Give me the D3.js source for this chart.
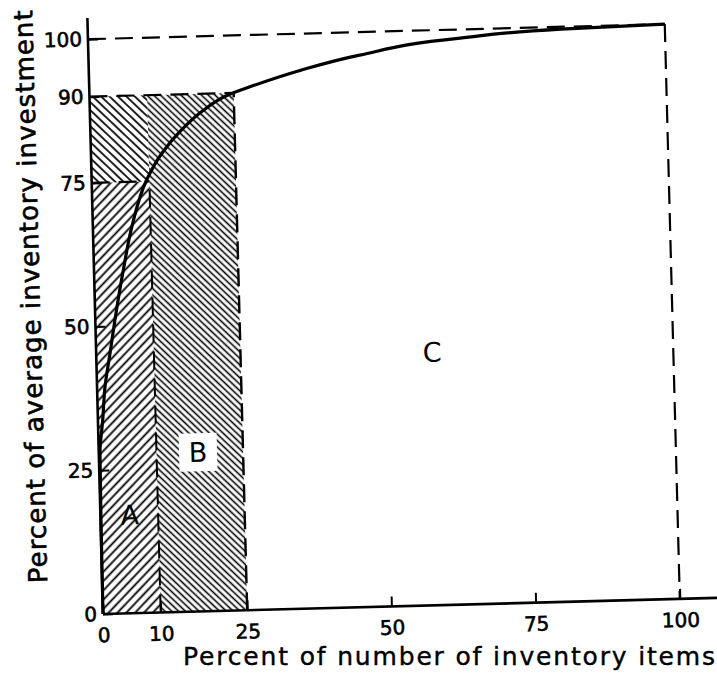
<!DOCTYPE html>
<html>
<head>
<meta charset="utf-8">
<script src="https://cdn.jsdelivr.net/npm/d3@7"></script>
<style>
  html, body { margin: 0; padding: 0; background: #fff; }
  svg { display: block; }
  text { font-family: "DejaVu Sans", sans-serif; fill: #000; }
</style>
</head>
<body>
<svg id="chart" width="717" height="685"></svg>
<script>
// ---------- data ----------
const classNames     = ["A", "B", "C"];
const classItemPct   = [10, 25, 100];   // cumulative % of number of items (class upper bound)
const classValuePct  = [75, 90, 100];   // cumulative % of average investment
const curveItemPct   = [0, 0.05, 0.2, 0.83, 1.38, 2.4, 3.41, 5.08, 6.76, 9.54, 12.26, 15.8, 19.4, 24.1, 28.2, 36.6, 47, 64.5, 82, 100];
const curveValuePct  = [0, 12, 27.9, 33.7, 39.5, 45.3, 51.1, 59.7, 67.2, 75.3, 79.8, 83.8, 86.9, 89.7, 91.1, 93.6, 96, 98.5, 99.6, 100];
const xTickValues    = [0, 10, 25, 50, 75, 100];
const yTickValues    = [0, 25, 50, 75, 90, 100];
const xTitle = "Percent of number of inventory items";
const yTitle = "Percent of average inventory investment";

// ---------- layout ----------
const svg = d3.select("#chart");
const W = 577, H = 575;
const x = d3.scaleLinear().domain([0, 100]).range([0, W]);
const y = d3.scaleLinear().domain([0, 100]).range([0, -H]);

const defs = svg.append("defs");
function hatch(id, angle, spacing, sw) {
  const p = defs.append("pattern")
    .attr("id", id).attr("patternUnits", "userSpaceOnUse")
    .attr("width", spacing).attr("height", 20)
    .attr("patternTransform", `rotate(${angle})`);
  p.append("line").attr("x1", spacing / 2).attr("x2", spacing / 2)
    .attr("y1", -2).attr("y2", 22)
    .attr("stroke", "#000").attr("stroke-width", sw);
}
hatch("hA", 45, 6.4, 1.8);
hatch("hA2", -45, 5.8, 1.7);
hatch("hB", -45, 4.7, 1.6);

// whole scanned figure is slightly tilted
const g = svg.append("g").attr("transform", "translate(103,614) rotate(-1.5)");

// hatched regions
g.append("rect").attr("x", x(0)).attr("y", y(classValuePct[0]))
  .attr("width", x(classItemPct[0]) - x(0)).attr("height", y(0) - y(classValuePct[0]))
  .attr("fill", "url(#hA)");
g.append("rect").attr("x", x(0)).attr("y", y(classValuePct[1]))
  .attr("width", x(classItemPct[0]) - x(0)).attr("height", y(classValuePct[0]) - y(classValuePct[1]))
  .attr("fill", "url(#hA2)");
g.append("rect").attr("x", x(classItemPct[0])).attr("y", y(classValuePct[1]))
  .attr("width", x(classItemPct[1]) - x(classItemPct[0])).attr("height", y(0) - y(classValuePct[1]))
  .attr("fill", "url(#hB)");

// dashed guide lines
const dash = "18 9";
function dline(x1, y1, x2, y2, sw) {
  g.append("line").attr("x1", x(x1)).attr("y1", y(y1)).attr("x2", x(x2)).attr("y2", y(y2))
    .attr("stroke", "#000").attr("stroke-width", sw || 2).attr("stroke-dasharray", dash);
}
dline(0, classValuePct[2], classItemPct[2], classValuePct[2], 2.2);
dline(classItemPct[2], classValuePct[2], classItemPct[2], 0, 2.2);
dline(0, classValuePct[1], classItemPct[1], classValuePct[1], 2.2);
dline(0, classValuePct[0], classItemPct[0], classValuePct[0], 2.2);
dline(classItemPct[0], 0, classItemPct[0], classValuePct[0], 2);
dline(classItemPct[1], 0, classItemPct[1], classValuePct[1], 2.4);

// axes
const xAxis = d3.axisBottom(x).tickValues(xTickValues).tickSize(-10).tickPadding(14).tickFormat(d3.format("d"));
const yAxis = d3.axisLeft(y).tickValues(yTickValues).tickSize(-10).tickPadding(6).tickFormat(d3.format("d"));
const gx = g.append("g").call(xAxis);
const gy = g.append("g").call(yAxis);
[gx, gy].forEach(a => {
  a.select(".domain").remove();
  a.selectAll("line").attr("stroke", "#000").attr("stroke-width", 2);
  a.selectAll("text").style("font-size", "20px").style("font-family", "DejaVu Sans, sans-serif")
    .attr("stroke", "#000").attr("stroke-width", 0.6).attr("fill", "#000");
});
g.append("line").attr("x1", x(0)).attr("y1", y(0)).attr("x2", x(0)).attr("y2", y(103.7))
  .attr("stroke", "#000").attr("stroke-width", 2.6);
g.append("line").attr("x1", x(0)).attr("y1", y(0)).attr("x2", x(106.5)).attr("y2", y(0))
  .attr("stroke", "#000").attr("stroke-width", 2.6);

// ABC curve
const line = d3.line().x((d, i) => x(curveItemPct[i])).y((d, i) => y(curveValuePct[i]))
  .curve(d3.curveMonotoneY);
g.append("path").datum(curveItemPct).attr("d", line)
  .attr("fill", "none").attr("stroke", "#000").attr("stroke-width", 3.2)
  .attr("stroke-linejoin", "round");

// class labels
const labelAt = [[5.1, 17.1], [17.2, 27.7], [58.2, 44.0]];
classNames.forEach((n, i) => {
  const [lx, ly] = labelAt[i];
  if (n === "B") {
    g.append("rect").attr("x", x(lx) - 19).attr("y", y(ly) - 19).attr("width", 38).attr("height", 38)
      .attr("fill", "#fff");
  }
  g.append("text").attr("x", x(lx)).attr("y", y(ly)).attr("text-anchor", "middle")
    .attr("dominant-baseline", "central").style("font-size", "27px").text(n);
});

// y title (tilted with figure)
g.append("text").attr("transform", `translate(-55,-319) rotate(-90)`)
  .attr("text-anchor", "middle").attr("textLength", 573).attr("lengthAdjust", "spacing")
  .attr("stroke", "#000").attr("stroke-width", 0.6)
  .style("font-size", "26px").text(yTitle);

// x title
svg.append("text").attr("x", 183).attr("y", 665)
  .attr("textLength", 532).attr("lengthAdjust", "spacing")
  .attr("stroke", "#000").attr("stroke-width", 0.4)
  .style("font-size", "25px").text(xTitle);
</script>
</body>
</html>
